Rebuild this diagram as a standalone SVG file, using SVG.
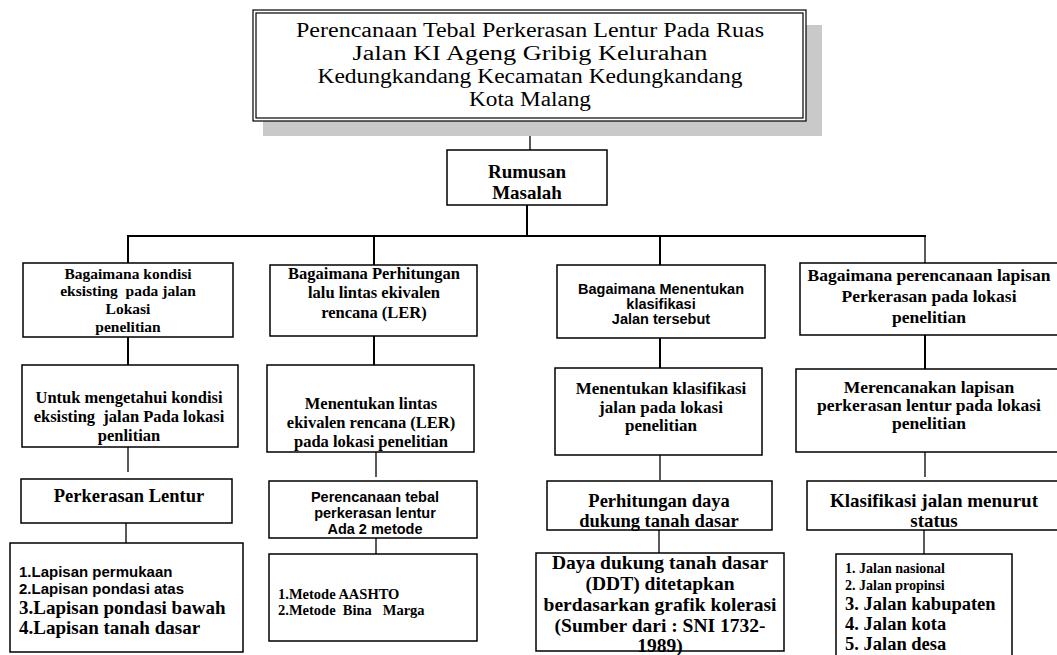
<svg xmlns="http://www.w3.org/2000/svg" width="1057" height="655" viewBox="0 0 1057 655" xml:space="preserve">
<style>
text{white-space:pre}
.box{fill:#fff;stroke:#000;stroke-width:1.5}
.ln{stroke:#000;stroke-width:2;fill:none}
.lt{stroke:#000;stroke-width:1.3;fill:none}
.s{font-family:"Liberation Serif","Times New Roman",serif;font-weight:bold;fill:#000}
.a{font-family:"Liberation Sans",Arial,sans-serif;font-weight:bold;fill:#000}
.r{font-family:"Liberation Serif","Times New Roman",serif;font-size:20.5px;fill:#000}
.c{text-anchor:middle}
</style>
<rect width="1057" height="655" fill="#fff"/>
<g id="connectors">
<line class="lt" x1="530" y1="121" x2="530" y2="150"/>
<line class="ln" x1="527" y1="205" x2="527" y2="236"/>
<line class="ln" x1="127" y1="236" x2="926" y2="236"/>
<line class="ln" x1="128" y1="236" x2="128" y2="263"/>
<line class="ln" x1="374" y1="236" x2="374" y2="265"/>
<line class="ln" x1="660" y1="236" x2="660" y2="265"/>
<line class="lt" x1="925" y1="236" x2="925" y2="263"/>
<line class="ln" x1="128" y1="337" x2="128" y2="365"/>
<line class="ln" x1="374" y1="336" x2="374" y2="365"/>
<line class="ln" x1="660" y1="338" x2="660" y2="368"/>
<line class="ln" x1="925" y1="335" x2="925" y2="369"/>
<line class="lt" x1="128" y1="447" x2="128" y2="472"/>
<line class="lt" x1="376" y1="452" x2="376" y2="477"/>
<line class="lt" x1="660" y1="455" x2="660" y2="480"/>
<line class="lt" x1="925" y1="452" x2="925" y2="477"/>
<line class="lt" x1="126" y1="523" x2="126" y2="543"/>
<line class="lt" x1="376" y1="538" x2="376" y2="563"/>
<line class="lt" x1="659" y1="530" x2="659" y2="553"/>
<line class="lt" x1="924" y1="530" x2="924" y2="555"/>
</g>
<g id="title">
<rect x="263" y="25" width="559" height="111" fill="#c9c9c9"/>
<rect x="253" y="10" width="553" height="111" fill="#fff" stroke="#000" stroke-width="1.2"/>
<rect x="256" y="13" width="547" height="105" fill="none" stroke="#000" stroke-width="1.2"/>
<text class="r c" x="530" y="37" textLength="468" lengthAdjust="spacingAndGlyphs">Perencanaan Tebal Perkerasan Lentur Pada Ruas</text>
<text class="r c" x="530" y="60" textLength="355" lengthAdjust="spacingAndGlyphs">Jalan KI Ageng Gribig Kelurahan</text>
<text class="r c" x="530" y="83" textLength="425" lengthAdjust="spacingAndGlyphs">Kedungkandang Kecamatan Kedungkandang</text>
<text class="r c" x="530" y="106" textLength="122" lengthAdjust="spacingAndGlyphs">Kota Malang</text>
</g>
<g id="rumusan">
<rect class="box" x="447" y="150" width="160" height="55"/>
<text class="s c" x="527" y="178" font-size="19">Rumusan</text>
<text class="s c" x="527" y="199" font-size="19">Masalah</text>
</g>
<g id="q1">
<rect class="box" x="23" y="263" width="210" height="74"/>
<text class="s c" x="128" y="279" font-size="15.5">Bagaimana kondisi</text>
<text class="s c" x="128" y="296" font-size="15.5">eksisting  pada jalan</text>
<text class="s c" x="128" y="314" font-size="15.5">Lokasi</text>
<text class="s c" x="128" y="332" font-size="15.5">penelitian</text>
</g>
<g id="q2">
<rect class="box" x="270" y="265" width="207" height="71"/>
<text class="s c" x="374" y="279" font-size="16.5">Bagaimana Perhitungan</text>
<text class="s c" x="374" y="298" font-size="16.5">lalu lintas ekivalen</text>
<text class="s c" x="374" y="318" font-size="16.5">rencana (LER)</text>
</g>
<g id="q3">
<rect class="box" x="557" y="265" width="208" height="73"/>
<text class="a c" x="661" y="294" font-size="14.5">Bagaimana Menentukan</text>
<text class="a c" x="661" y="309" font-size="14.5">klasifikasi</text>
<text class="a c" x="661" y="324" font-size="14.5">Jalan tersebut</text>
</g>
<g id="q4">
<rect class="box" x="800" y="263" width="262" height="72"/>
<text class="s c" x="929" y="281" font-size="17.5">Bagaimana perencanaan lapisan</text>
<text class="s c" x="929" y="302" font-size="17.5">Perkerasan pada lokasi</text>
<text class="s c" x="929" y="323" font-size="17.5">penelitian</text>
</g>
<g id="t1">
<rect class="box" x="22" y="365" width="216" height="82"/>
<text class="s c" x="129" y="403" font-size="16.5">Untuk mengetahui kondisi</text>
<text class="s c" x="129" y="422" font-size="16.5">eksisting  jalan Pada lokasi</text>
<text class="s c" x="129" y="441" font-size="16.5">penlitian</text>
</g>
<g id="t2">
<rect class="box" x="267" y="365" width="207" height="87"/>
<text class="s c" x="371" y="409" font-size="16.5">Menentukan lintas</text>
<text class="s c" x="371" y="428" font-size="16.5">ekivalen rencana (LER)</text>
<text class="s c" x="371" y="447" font-size="16.5">pada lokasi penelitian</text>
</g>
<g id="t3">
<rect class="box" x="555" y="368" width="207" height="87"/>
<text class="s c" x="661" y="394" font-size="17">Menentukan klasifikasi</text>
<text class="s c" x="661" y="413" font-size="17">jalan pada lokasi</text>
<text class="s c" x="661" y="431" font-size="17">penelitian</text>
</g>
<g id="t4">
<rect class="box" x="796" y="369" width="266" height="83"/>
<text class="s c" x="929" y="393" font-size="17.5">Merencanakan lapisan</text>
<text class="s c" x="929" y="411" font-size="17.5">perkerasan lentur pada lokasi</text>
<text class="s c" x="929" y="429" font-size="17.5">penelitian</text>
</g>
<g id="m1">
<rect class="box" x="21" y="479" width="211" height="44"/>
<text class="s c" x="129" y="502" font-size="18.5">Perkerasan Lentur</text>
</g>
<g id="m2">
<rect class="box" x="269" y="481" width="208" height="57"/>
<text class="a c" x="375" y="502" font-size="14.5">Perencanaan tebal</text>
<text class="a c" x="375" y="518" font-size="14.5">perkerasan lentur</text>
<text class="a c" x="375" y="534" font-size="14.5">Ada 2 metode</text>
</g>
<g id="m3">
<rect class="box" x="547" y="481" width="225" height="49"/>
<text class="s c" x="659" y="507" font-size="18.5">Perhitungan daya</text>
<text class="s c" x="659" y="527" font-size="18.5">dukung tanah dasar</text>
</g>
<g id="m4">
<rect class="box" x="807" y="481" width="255" height="49"/>
<text class="s c" x="934" y="507" font-size="19">Klasifikasi jalan menurut</text>
<text class="s c" x="934" y="527" font-size="19">status</text>
</g>
<g id="b1">
<rect class="box" x="10" y="543" width="233" height="109"/>
<text class="a" x="19" y="577" font-size="15">1.Lapisan permukaan</text>
<text class="a" x="19" y="594" font-size="15">2.Lapisan pondasi atas</text>
<text class="s" x="19" y="614" font-size="19">3.Lapisan pondasi bawah</text>
<text class="s" x="19" y="634" font-size="19">4.Lapisan tanah dasar</text>
</g>
<g id="b2">
<rect class="box" x="269" y="554" width="208" height="87"/>
<text class="s" x="278" y="599" font-size="14.5">1.Metode AASHTO</text>
<text class="s" x="278" y="615" font-size="14.5">2.Metode  Bina   Marga</text>
</g>
<g id="b3">
<rect class="box" x="536" y="553" width="248" height="98"/>
<text class="s c" x="660" y="569" font-size="19.5">Daya dukung tanah dasar</text>
<text class="s c" x="660" y="590" font-size="19.5">(DDT) ditetapkan</text>
<text class="s c" x="660" y="611" font-size="19.5">berdasarkan grafik kolerasi</text>
<text class="s c" x="660" y="632" font-size="19.5">(Sumber dari : SNI 1732-</text>
<text class="s c" x="660" y="652" font-size="19.5">1989)</text>
</g>
<g id="b4">
<rect class="box" x="836" y="554" width="176" height="105"/>
<text class="s" x="845" y="573" font-size="14">1. Jalan nasional</text>
<text class="s" x="845" y="590" font-size="14">2. Jalan propinsi</text>
<text class="s" x="845" y="610" font-size="18.5">3. Jalan kabupaten</text>
<text class="s" x="845" y="630" font-size="18.5">4. Jalan kota</text>
<text class="s" x="845" y="650" font-size="18.5">5. Jalan desa</text>
</g>
</svg>
